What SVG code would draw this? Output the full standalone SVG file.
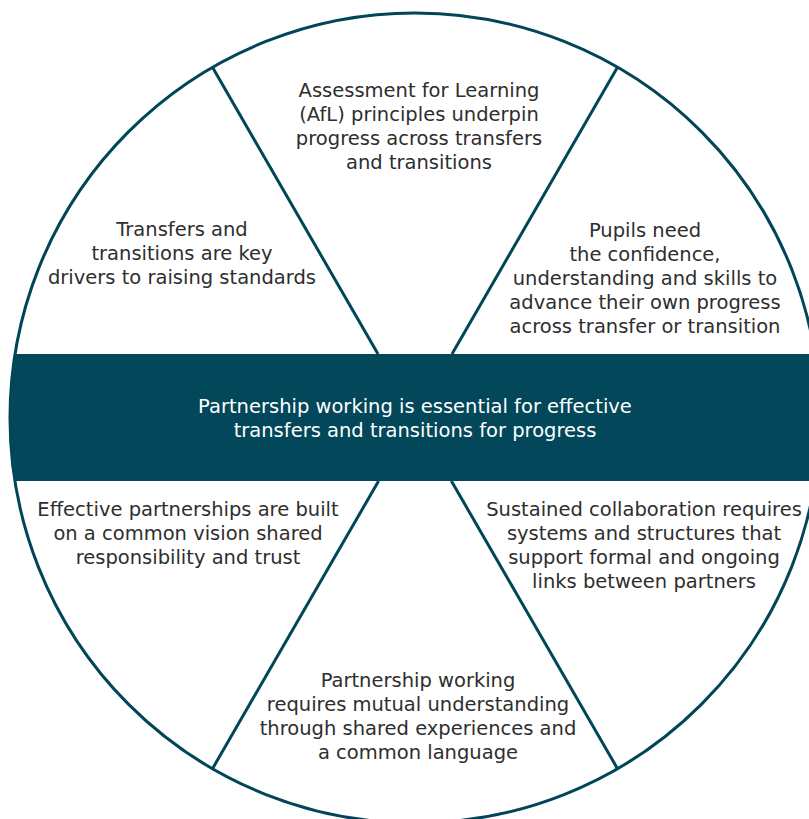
<svg xmlns="http://www.w3.org/2000/svg" width="809" height="819" viewBox="0 0 809 819">
<style>
.t{font-family:"DejaVu Sans","Liberation Sans",sans-serif;font-size:19.5px;fill:#2e2e2e;text-anchor:middle}
.w{fill:#ffffff}
.ln{stroke:#004658;stroke-width:3;fill:none}
</style>
<defs>
<clipPath id="cc"><circle cx="415" cy="418" r="405"/></clipPath>
</defs>
<rect width="809" height="819" fill="#ffffff"/>
<g id="circle">
<circle cx="415" cy="418" r="405" fill="#ffffff" class="ln"/>
</g>
<g id="band">
<rect x="0" y="354" width="830" height="127" fill="#02475a" clip-path="url(#cc)"/>
<text class="t w" x="415" y="413">Partnership working is essential for effective</text>
<text class="t w" x="415" y="437">transfers and transitions for progress</text>
</g>
<g id="connectors">
<line class="ln" x1="378" y1="354" x2="212.5" y2="67.3"/>
<line class="ln" x1="452" y1="354" x2="617.5" y2="67.3"/>
<line class="ln" x1="378.6" y1="481" x2="212.5" y2="768.7"/>
<line class="ln" x1="451.4" y1="481" x2="617.5" y2="768.7"/>
</g>
<g id="top">
<text class="t" x="419" y="97">Assessment for Learning</text>
<text class="t" x="419" y="121">(AfL) principles underpin</text>
<text class="t" x="419" y="145">progress across transfers</text>
<text class="t" x="419" y="169">and transitions</text>
</g>
<g id="top-left">
<text class="t" x="182" y="236">Transfers and</text>
<text class="t" x="182" y="260">transitions are key</text>
<text class="t" x="182" y="284">drivers to raising standards</text>
</g>
<g id="top-right">
<text class="t" x="645" y="237">Pupils need</text>
<text class="t" x="645" y="261">the confidence,</text>
<text class="t" x="645" y="285">understanding and skills to</text>
<text class="t" x="645" y="309">advance their own progress</text>
<text class="t" x="645" y="333">across transfer or transition</text>
</g>
<g id="bottom-left">
<text class="t" x="188" y="516">Effective partnerships are built</text>
<text class="t" x="188" y="540">on a common vision shared</text>
<text class="t" x="188" y="564">responsibility and trust</text>
</g>
<g id="bottom-right">
<text class="t" x="644" y="516">Sustained collaboration requires</text>
<text class="t" x="644" y="540">systems and structures that</text>
<text class="t" x="644" y="564">support formal and ongoing</text>
<text class="t" x="644" y="588">links between partners</text>
</g>
<g id="bottom">
<text class="t" x="418" y="687">Partnership working</text>
<text class="t" x="418" y="711">requires mutual understanding</text>
<text class="t" x="418" y="735">through shared experiences and</text>
<text class="t" x="418" y="759">a common language</text>
</g>
</svg>
